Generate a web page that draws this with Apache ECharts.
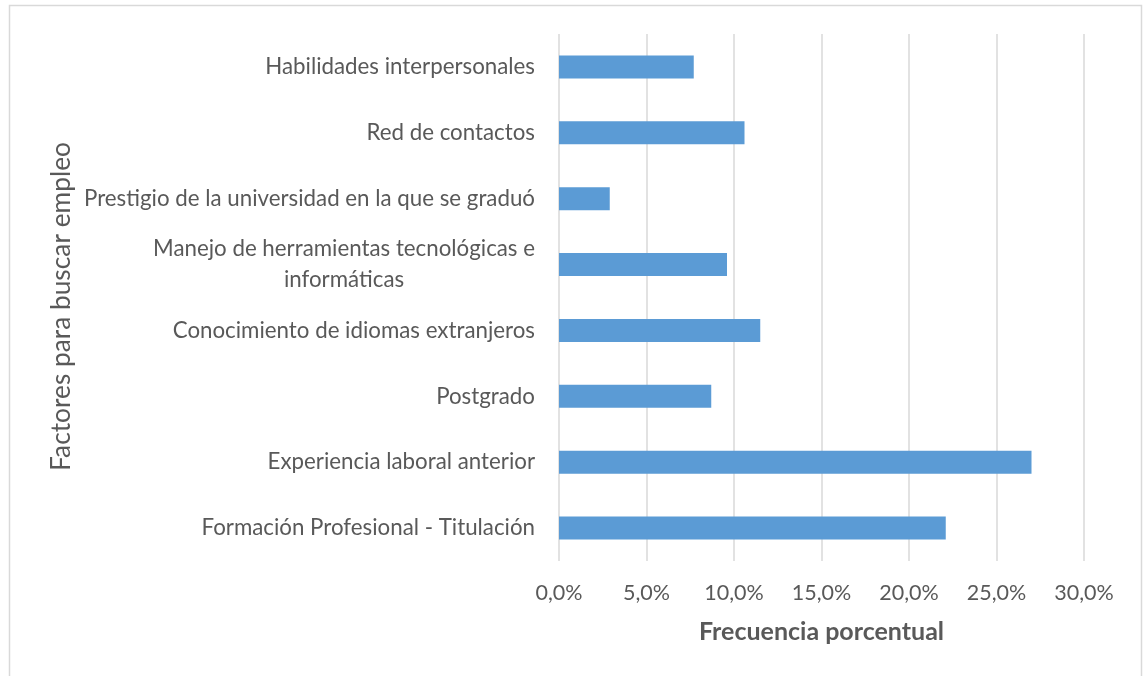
<!DOCTYPE html>
<html>
<head>
<meta charset="utf-8">
<script src="https://cdn.jsdelivr.net/npm/echarts@6/dist/echarts.min.js"></script>
<style>
html,body{margin:0;padding:0;background:#fff;}
#chart{width:1146px;height:676px;}
</style>
</head>
<body>
<div id="chart"></div>
<script>
const categories = [
  'Formación Profesional - Titulación',
  'Experiencia laboral anterior',
  'Postgrado',
  'Conocimiento de idiomas extranjeros',
  'Manejo de herramientas tecnológicas e\ninformáticas',
  'Prestigio de la universidad en la que se graduó',
  'Red de contactos',
  'Habilidades interpersonales'
];
const values = [22.1, 27.0, 8.7, 11.5, 9.6, 2.9, 10.6, 7.7];
const xTicks = { min: 0, max: 30, interval: 5 };
const xAxisTitle = 'Frecuencia porcentual';
const yAxisTitle = 'Factores para buscar empleo';

const FONT = 'Lato';
const TXT = '#595959';
const LBL = 22.3;

const chart = echarts.init(document.getElementById('chart'), null, { renderer: 'canvas' });
chart.setOption({
  animation: false,
  backgroundColor: '#fff',
  textStyle: { fontFamily: FONT },
  graphic: [{
    type: 'rect',
    shape: { x: 9.5, y: 5.5, width: 1132, height: 700 },
    style: { fill: 'none', stroke: '#D9D9D9', lineWidth: 1.5 },
    silent: true
  }],
  grid: { left: 559, right: 62, top: 34, bottom: 115, containLabel: false },
  xAxis: {
    type: 'value',
    min: xTicks.min, max: xTicks.max, interval: xTicks.interval,
    axisLine: { show: false },
    axisTick: { show: false },
    splitLine: { lineStyle: { color: '#D9D9D9', width: 1.5 } },
    axisLabel: {
      color: TXT, fontSize: 21.5, fontFamily: FONT, margin: 21,
      formatter: v => v.toFixed(1).replace('.', ',') + '%'
    },
    name: xAxisTitle,
    nameLocation: 'middle',
    nameGap: 58,
    nameTextStyle: { color: TXT, fontSize: 25, fontWeight: 'bold', fontFamily: FONT }
  },
  yAxis: {
    type: 'category',
    data: categories,
    axisLine: { show: false },
    axisTick: { show: false },
    splitLine: { show: false },
    axisLabel: {
      color: TXT, fontSize: LBL, fontFamily: FONT, margin: 24, lineHeight: 31,
      formatter: v => v.split('\n').map(s => '{c|' + s + '}').join('\n'),
      rich: { c: { align: 'center', color: TXT, fontSize: LBL, fontFamily: FONT, lineHeight: 31 } }
    },
    name: yAxisTitle,
    nameLocation: 'middle',
    nameGap: 484,
    nameTextStyle: { color: TXT, fontSize: 26.3, fontFamily: FONT, padding: [0, 18, 0, 0] }
  },
  series: [{
    type: 'bar',
    data: values,
    barWidth: '35%',
    itemStyle: { color: '#5B9BD5' },
    silent: true
  }]
});
</script>
</body>
</html>
